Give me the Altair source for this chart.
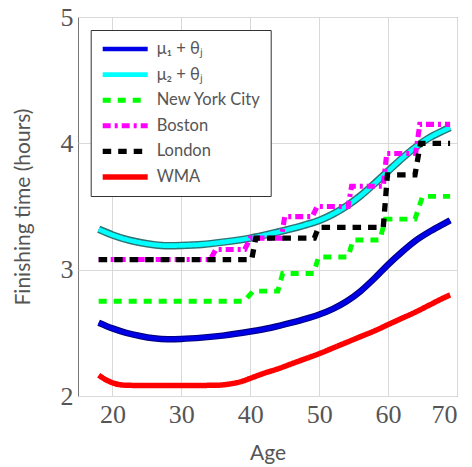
import altair as alt
import pandas as pd

# ---- data ----
series_names = ["μ₁ + θⱼ", "μ₂ + θⱼ", "New York City", "Boston", "London", "WMA"]
series_colors = ["#0000e6", "#00ffff", "#00ff00", "#ff00ff", "#000000", "#ff0000"]
series_dashes = [[1, 0], [1, 0], [8, 7], [8, 4, 3, 4], [8.5, 7], [1, 0]]
series_widths = [4.5, 5.5, 4, 4, 4, 4]

smooth_ages = [18, 20, 22, 24, 26, 28, 30, 33, 36, 40, 43, 46, 48, 50, 52, 54, 56, 58, 60, 62, 64, 66, 68, 69]
mu1 = [2.58, 2.535, 2.50, 2.475, 2.457, 2.45, 2.452, 2.462, 2.478, 2.51, 2.54, 2.58, 2.61, 2.645,
       2.69, 2.75, 2.83, 2.93, 3.04, 3.14, 3.23, 3.30, 3.36, 3.39]
mu2 = [3.32, 3.275, 3.24, 3.215, 3.198, 3.19, 3.192, 3.20, 3.218, 3.25, 3.285, 3.325, 3.355, 3.39,
       3.44, 3.505, 3.585, 3.68, 3.78, 3.88, 3.97, 4.045, 4.10, 4.125]

wma_ages = [18, 19, 20, 21, 22, 25, 30, 35, 36, 37, 38, 39, 40, 42, 44, 46, 48, 50, 52, 54, 56, 58,
            60, 62, 64, 66, 68, 69]
wma = [2.165, 2.13, 2.105, 2.09, 2.085, 2.083, 2.083, 2.085, 2.088, 2.095, 2.105, 2.12, 2.14, 2.18,
       2.215, 2.255, 2.295, 2.335, 2.38, 2.425, 2.47, 2.515, 2.565, 2.615, 2.665, 2.72, 2.775, 2.80]

nyc_ages = [18, 39.1, 40.4, 44.0, 44.7, 49.2, 49.9, 54.2, 54.9, 58.8, 59.6, 63.9, 65.0, 69]
nyc = [2.75, 2.75, 2.83, 2.83, 2.97, 2.97, 3.10, 3.10, 3.235, 3.235, 3.40, 3.40, 3.58, 3.58]

boston_ages = [18, 34.2, 35.0, 39.2, 40.0, 44.5, 45.0, 49.0, 49.7, 54.2, 54.7, 59.3, 59.8, 64.0, 64.6, 69]
boston = [3.08, 3.08, 3.16, 3.16, 3.25, 3.25, 3.42, 3.42, 3.50, 3.50, 3.66, 3.66, 3.92, 3.92, 4.15, 4.15]

london_ages = [18, 40.2, 40.8, 49.3, 49.9, 59.3, 59.9, 63.9, 64.7, 69]
london = [3.08, 3.08, 3.25, 3.25, 3.335, 3.335, 3.75, 3.75, 4.0, 4.0]

x_ticks = [20, 30, 40, 50, 60, 70]
y_ticks = [2, 3, 4, 5]


def frame(name, ages, vals):
    return pd.DataFrame({"series": name, "age": ages, "value": vals})


df_smooth = pd.concat([
    frame(series_names[0], smooth_ages, mu1),
    frame(series_names[1], smooth_ages, mu2),
    frame(series_names[5], wma_ages, wma),
], ignore_index=True)

df_step = pd.concat([
    frame(series_names[2], nyc_ages, nyc),
    frame(series_names[3], boston_ages, boston),
    frame(series_names[4], london_ages, london),
], ignore_index=True)

x_enc = alt.X("age:Q", scale=alt.Scale(domain=[15, 70], nice=False, zero=False),
              axis=alt.Axis(values=x_ticks, title="Age"))
y_enc = alt.Y("value:Q", scale=alt.Scale(domain=[2, 5], nice=False, zero=False),
              axis=alt.Axis(values=y_ticks, title="Finishing time (hours)"))

legend = alt.Legend(orient="none", legendX=12.7, legendY=13, symbolType="stroke",
                    symbolSize=2025, clipHeight=20, rowPadding=5.6, padding=9,
                    labelOffset=6, strokeColor="#333333", fillColor="white",
                    labelFont="Lato", labelFontSize=16.5, labelColor="#555555",
                    labelLimit=300)

color_enc = alt.Color("series:N", title=None,
                      scale=alt.Scale(domain=series_names, range=series_colors), legend=legend)
dash_enc = alt.StrokeDash("series:N", title=None,
                          scale=alt.Scale(domain=series_names, range=series_dashes), legend=legend)
width_enc = alt.StrokeWidth("series:N", title=None,
                            scale=alt.Scale(domain=series_names, range=series_widths), legend=legend)

outline_blue = alt.Chart(df_smooth).transform_filter(
    alt.datum.series == series_names[0]
).mark_line(color="#00007a", strokeWidth=6.5, interpolate="monotone").encode(x=x_enc, y=y_enc)

outline_cyan = alt.Chart(df_smooth).transform_filter(
    alt.datum.series == series_names[1]
).mark_line(color="#2f7474", strokeWidth=7.5, interpolate="monotone").encode(x=x_enc, y=y_enc)

smooth = alt.Chart(df_smooth).mark_line(interpolate="monotone").encode(
    x=x_enc, y=y_enc, color=color_enc, strokeDash=dash_enc, strokeWidth=width_enc,
    detail="series:N")

steps = alt.Chart(df_step).mark_line(interpolate="linear").encode(
    x=x_enc, y=y_enc, color=color_enc, strokeDash=dash_enc, strokeWidth=width_enc,
    detail="series:N")

chart = alt.layer(outline_blue, outline_cyan, smooth, steps).properties(
    width=379, height=379,
    autosize=alt.AutoSizeParams(type="none"),
    padding={"left": 78, "top": 17, "right": 15, "bottom": 71},
).configure_view(
    stroke="#777777", strokeWidth=1
).configure_axis(
    domain=False, ticks=False, tickSize=0,
    grid=True, gridColor="#d9d9d9", gridWidth=1,
    labelFont="Liberation Serif", labelFontSize=26, labelColor="#555555",
    labelPadding=5,
    titleFont="Lato", titleFontSize=21, titleColor="#555555", titleFontWeight="normal",
).configure_axisX(
    titlePadding=15
).configure_axisY(
    titlePadding=27
)

chart.save("out.html", embed_options={"renderer": "svg", "actions": False})
